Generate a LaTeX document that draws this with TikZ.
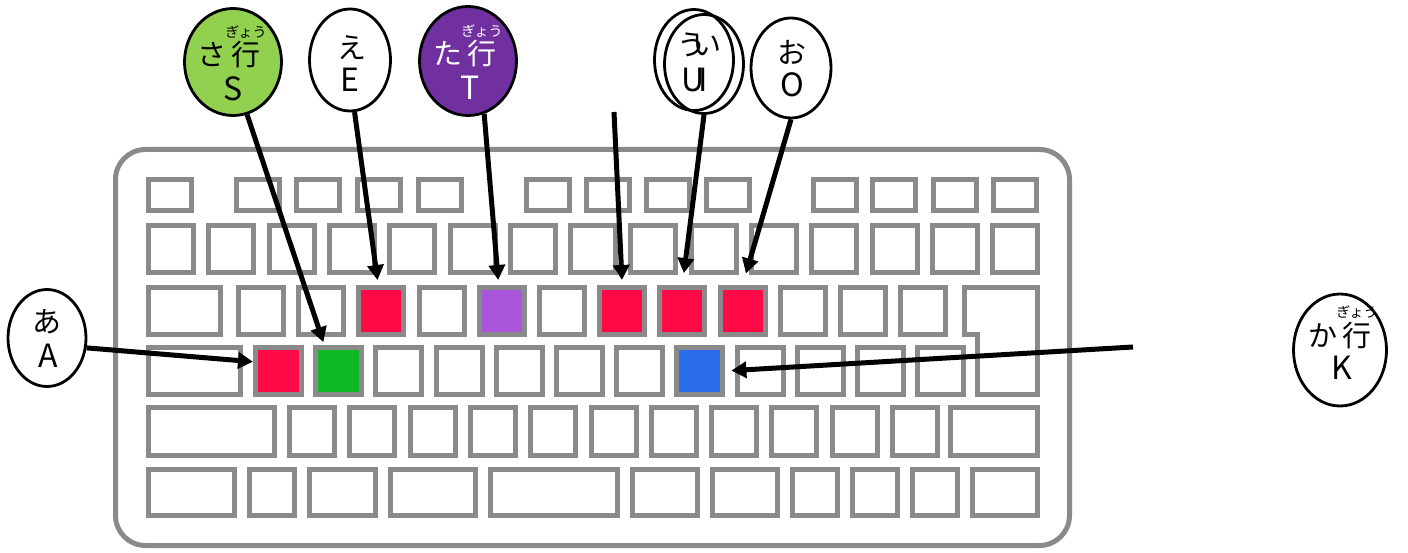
\documentclass[tikz,border=0pt]{standalone}
\usepackage{fontspec}
\newfontfamily\jpfont{Noto Sans CJK JP}
\usetikzlibrary{arrows.meta, shapes.geometric, calc}
\definecolor{keygray}{HTML}{8A8A8A}
\definecolor{keyred}{HTML}{FF0A47}
\definecolor{keygreen}{HTML}{0DBA26}
\definecolor{keypurple}{HTML}{A955DC}
\definecolor{keyblue}{HTML}{2B6DEB}
\definecolor{bubgreen}{HTML}{92D050}
\definecolor{bubpurple}{HTML}{7030A0}
\tikzset{
  key/.style={draw=keygray, line width=5pt},
  hotkey/.style={key, fill=#1, minimum width=45pt, minimum height=47pt, inner sep=0pt},
  bubble/.style={ellipse, draw=black, line width=2.8pt, inner sep=0pt},
  kana/.style={font=\jpfont\fontsize{29}{29}\selectfont, inner sep=0pt},
  latin/.style={font=\jpfont\fontsize{32}{32}\selectfont, inner sep=0pt},
  rubytext/.style={font=\jpfont\fontsize{14}{14}\selectfont, inner sep=0pt},
  pointer/.style={line width=5pt, -{Triangle[length=15pt,width=16pt]}},
}
\begin{document}
\begin{tikzpicture}[x=1pt, y=-1pt]
  \useasboundingbox (0,0) rectangle (1408,553);
  % keyboard
  \draw[keygray, line width=5pt, rounded corners=30pt] (115.5,149.5) rectangle (1069.5,545.5);
  \foreach \x in {146,234,294,355,416,524,584,644,704,811,870,931,991}
    \draw[key] (\x+2.5,179.5) rectangle (\x+45.5,210.5);
  \foreach \i in {0,...,14}
    \draw[key] ({146+60.3*\i+2.5},225.5) rectangle ++(45,47);
  \draw[key] (148.5,287.5) rectangle (220.5,334.5);
  \foreach \i in {0,...,11}
    \draw[key] ({236+60.2*\i+2.5},287.5) rectangle ++(45,47);
  \draw[key] (964.5,287.5) -- (1037.5,287.5) -- (1037.5,394.5) -- (977.5,394.5)
    -- (977.5,334.5) -- (964.5,334.5) -- cycle;
  \draw[key] (148.5,347.5) rectangle (240.5,394.5);
  \foreach \i in {0,...,11}
    \draw[key] ({253+60.2*\i+2.5},347.5) rectangle ++(46,47);
  \draw[key] (148.5,407.5) rectangle (274.5,455.5);
  \foreach \i in {0,...,10}
    \draw[key] ({287+60.3*\i+2.5},407.5) rectangle ++(45,48);
  \draw[key] (950.5,407.5) rectangle (1037.5,455.5);
  \foreach \a/\b in {146/237,247/297,307/378,388/478,488/620,630/700,710/780,790/840,850/900,910/960,970/1040}
    \draw[key] (\a+2.5,469.5) rectangle (\b-2.5,515.5);

  % coloured keys
  \node[hotkey=keyred] (kE) at (381.4,311) {};
  \node[hotkey=keypurple] (kT) at (501.8,311) {};
  \node[hotkey=keyred] (kU) at (622.2,311) {};
  \node[hotkey=keyred] (kI) at (682.4,311) {};
  \node[hotkey=keyred] (kO) at (742.6,311) {};
  \node[hotkey=keyred, minimum width=46pt] (kA) at (278.5,371) {};
  \node[hotkey=keygreen, minimum width=46pt] (kS) at (338.7,371) {};
  \node[hotkey=keyblue, minimum width=46pt] (kK) at (699.9,371) {};

  % bubbles
  \node[bubble, fill=bubgreen, minimum width=97pt, minimum height=107pt] (bS) at (233,62) {};
  \node[kana] (sKana) at (229,55) {さ\hspace{5pt}行};
  \node[rubytext] (sRuby) at (246,32) {ぎょう};
  \node[latin] (sLat) at (233,89) {S};

  \node[bubble, fill=white, minimum width=81pt, minimum height=102pt] (bE) at (350,60) {};
  \node[kana] (eKana) at (352,48) {え};
  \node[latin] (eLat) at (350,80) {E};

  \node[bubble, fill=bubpurple, minimum width=97pt, minimum height=109pt] (bT) at (468,61) {};
  \node[kana, white] (tKana) at (465,54) {た\hspace{5pt}行};
  \node[rubytext, white] (tRuby) at (482,31) {ぎょう};
  \node[latin, white] (tLat) at (470,88) {T};

  \node[bubble, minimum width=79pt, minimum height=101pt] (bU) at (694,60) {};
  \node[bubble, minimum width=79pt, minimum height=99pt] (bI) at (704,64) {};
  \node[kana] (uKana) at (692,45) {う};
  \node[kana] (iKana) at (707,45) {い};
  \node[latin] (uLat) at (693,80) {U};
  \node[latin] (iLat) at (703,80) {I};

  \node[bubble, fill=white, minimum width=80pt, minimum height=100pt] (bO) at (791,68) {};
  \node[kana] (oKana) at (792,52) {お};
  \node[latin] (oLat) at (792,85) {O};

  \node[bubble, fill=white, minimum width=78pt, minimum height=97pt] (bA) at (47,338) {};
  \node[kana] (aKana) at (47,322) {あ};
  \node[latin] (aLat) at (48,356) {A};

  \node[bubble, fill=white, minimum width=93pt, minimum height=112pt] (bK) at (1340,350) {};
  \node[kana] (kKana) at (1340,336) {か\hspace{5pt}行};
  \node[rubytext] (kRuby) at (1357,312) {ぎょう};
  \node[latin] (kLat) at (1342,368) {K};

  % arrows
  \coordinate (uFree) at (614,112);
  \coordinate (kFree) at (1133,347);
  \draw[pointer, shorten >=3pt] (bS.-75) -- (kS.119);
  \draw[pointer, shorten >=5pt] (bE.-85) -- (kE.97);
  \draw[pointer, shorten >=5pt] (bT.-73) -- (kT.97);
  \draw[pointer, shorten >=5pt] (uFree) -- (kU.north);
  \draw[pointer, shorten >=12pt] (bI.south) -- (kI.north);
  \draw[pointer, shorten >=12pt] (bO.south) -- (kO.north);
  \draw[pointer] (bA.-14) -- (kA.160);
  \draw[pointer, shorten >=6pt] (kFree) -- (kK.east);
\end{tikzpicture}
\end{document}
